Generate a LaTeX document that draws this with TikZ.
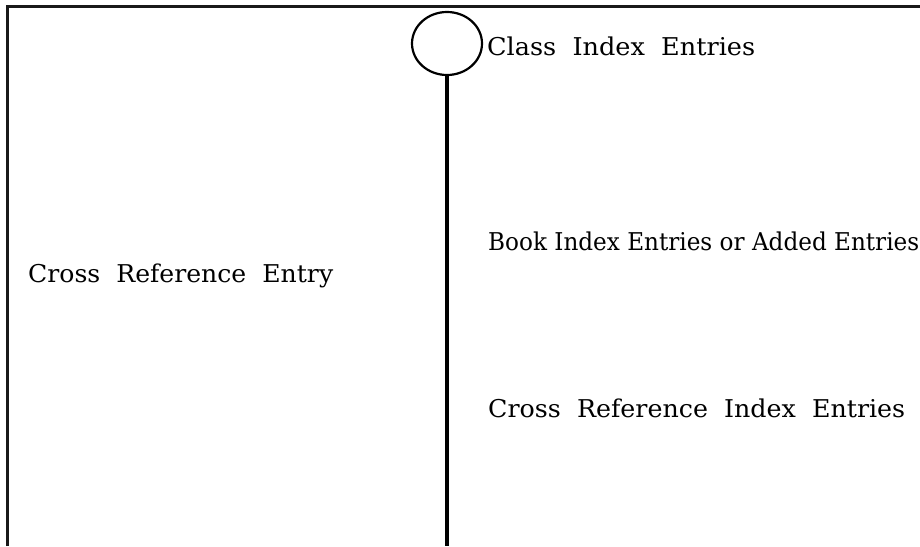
\documentclass[tikz,border=0pt]{standalone}
\usepackage{fontspec}
\setmainfont{DejaVu Serif}
\usetikzlibrary{shapes.geometric}
\begin{document}
\begin{tikzpicture}[x=1pt,y=-1pt,
  frame/.style={line width=2.4pt,black!90},
  stem/.style={line width=3.2pt,black},
  label/.style={anchor=base west,inner sep=0pt,font=\fontsize{24.5}{28}\selectfont}]
\useasboundingbox (0,0) rectangle (920,546);
\coordinate (bl) at (7.5,546);
\coordinate (tl) at (7.5,6.5);
\coordinate (tr) at (920,6.5);
\draw[frame] (bl) -- (tl) -- (tr);
\node[ellipse,draw,line width=2.2pt,minimum width=70pt,minimum height=63pt,inner sep=0pt] (circ) at (447,43.5) {};
\coordinate (bot) at (446,546);
\draw[stem] (circ.south) -- (circ.south |- bot);
\node[label] (cls) at (487,55) {\resizebox{268pt}{\height}{Class\ \ Index\ \ Entries}};
\node[label] (book) at (488,250) {\resizebox{431pt}{\height}{Book Index Entries or Added Entries}};
\node[label] (cre) at (28,282) {\resizebox{305pt}{\height}{Cross\ \ Reference\ \ Entry}};
\node[label] (cri) at (488,417) {\resizebox{417pt}{\height}{Cross\ \ Reference\ \ Index\ \ Entries}};
\end{tikzpicture}
\end{document}
